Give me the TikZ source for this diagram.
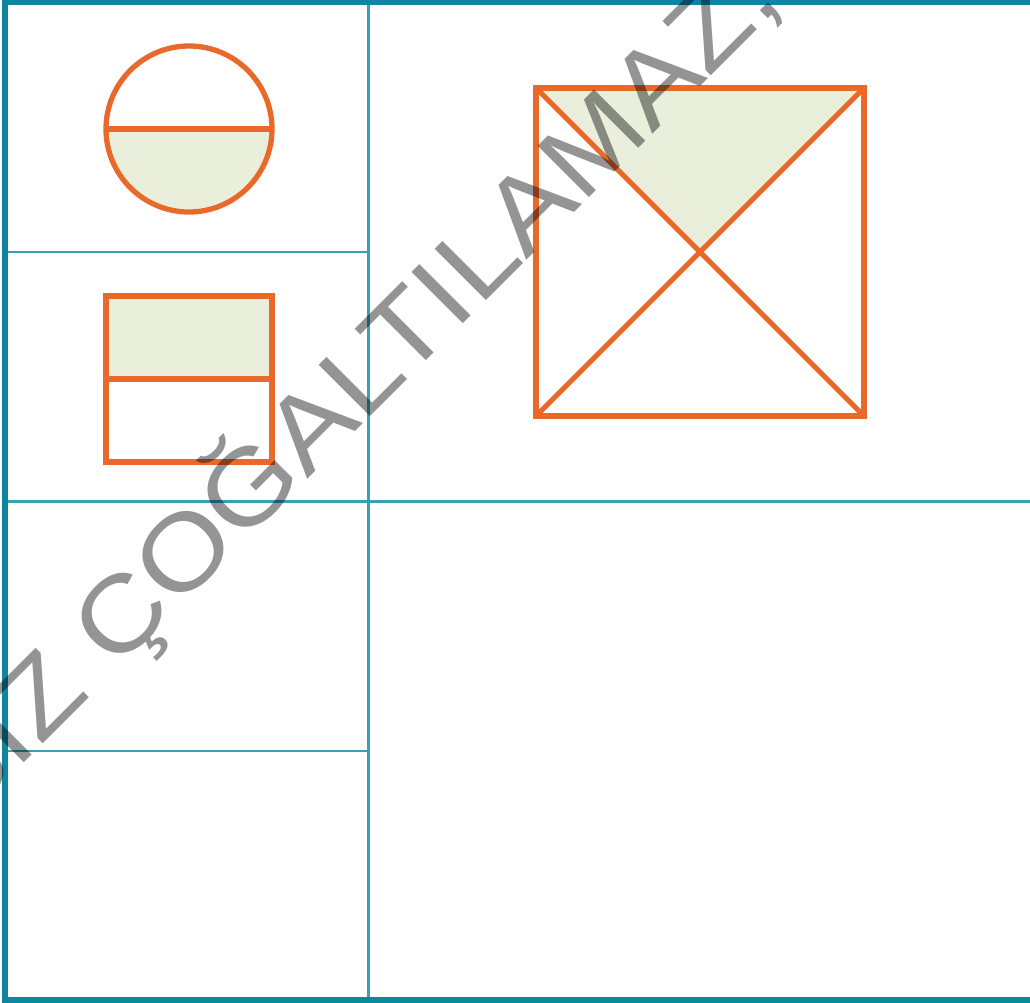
\documentclass[tikz,border=0pt]{standalone}
\usepackage{fontspec}
\newfontfamily\markfont[FakeStretch=1.13]{Liberation Sans}
\definecolor{frameteal}{HTML}{0E86A0}
\definecolor{cellteal}{HTML}{3A9FB4}
\definecolor{shapeorange}{HTML}{E8692A}
\definecolor{shadegreen}{HTML}{E9EFDA}

\begin{document}
\begin{tikzpicture}[x=0.01cm,y=-0.01cm,
  shapeline/.style={draw=shapeorange,line width=1.5pt},
  cellline/.style={draw=cellteal,line width=0.6pt}]
\useasboundingbox (0,0) rectangle (1030,1003);
\begin{scope}
\clip (0,0) rectangle (1030,1003);
% table lines
\draw[cellline] (368.5,3)--(368.5,1000);
\draw[cellline] (5,252)--(368.5,252);
\draw[cellline] (5,501.5)--(1040,501.5);
\draw[cellline] (5,751)--(368.5,751);
\draw[draw=frameteal,line width=1.7pt] (1040,2.5)--(5,2.5)--(5,1000)--(1040,1000);
% half-shaded circle
\begin{scope}
\clip (100,129) rectangle (280,220);
\fill[shadegreen] (189,129) circle[radius=83];
\end{scope}
\draw[shapeline] (189,129) circle[radius=83];
\draw[shapeline] (106,129)--(272,129);
% half-shaded square
\fill[shadegreen] (106,296) rectangle (272,379);
\draw[shapeline] (106,296) rectangle (272,462);
\draw[shapeline] (106,379)--(272,379);
% square with diagonals
\fill[shadegreen] (536,88)--(864,88)--(700,252)--cycle;
\draw[shapeline] (536,88) rectangle (864,416);
\draw[shapeline] (536,88)--(864,416) (864,88)--(536,416);
% watermark
\node[font=\markfont\fontsize{30}{36}\selectfont,text=black,text opacity=0.42,
  rotate=45,anchor=base east,inner sep=0pt] (watermark) at (784,3) {İZİNSİZ ÇOĞALTILAMAZ,};
\end{scope}
\end{tikzpicture}
\end{document}
